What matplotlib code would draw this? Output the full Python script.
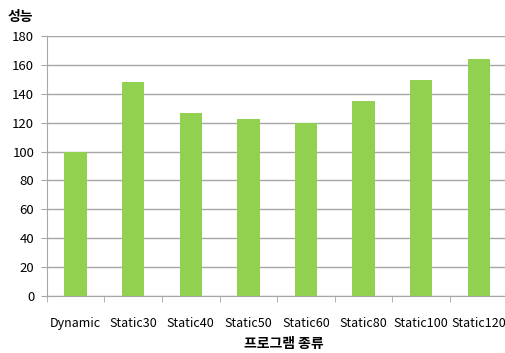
import numpy as np
import matplotlib
matplotlib.use("Agg")
import matplotlib.pyplot as plt

plt.rcParams['font.family'] = ['Noto Sans CJK KR', 'DejaVu Sans']

# data
programs = ["Dynamic", "Static30", "Static40", "Static50", "Static60", "Static80", "Static100", "Static120"]
performance = [100, 148, 126.5, 122.3, 120, 135, 149.3, 164.2]

fig = plt.figure(figsize=(5.06, 3.53), dpi=100)
ax = fig.add_axes([46.7 / 506, 1 - 296 / 353, (507.7 - 46.7) / 506, 260 / 353])

x = np.arange(len(programs))
ax.bar(x, performance, width=0.39, color="#92D050", zorder=3)

ax.set_xlim(-0.5, len(programs) - 0.5)
ax.set_ylim(0, 180)
ax.set_yticks(range(0, 181, 20))
ax.yaxis.grid(True, color="#A6A6A6", linewidth=1)
ax.set_axisbelow(True)

ax.set_xticks(x)
ax.set_xticklabels(programs, fontsize=9)
ax.set_xticks(np.arange(-0.5, len(programs), 1), minor=True)
ax.tick_params(axis="x", which="major", length=0, pad=15)
ax.tick_params(axis="x", which="minor", length=4, color="#A6A6A6", direction="out")
ax.tick_params(axis="y", length=4, color="#A6A6A6", labelsize=9.5, pad=5)

for s in ["top", "right"]:
    ax.spines[s].set_visible(False)
for s in ["left", "bottom"]:
    ax.spines[s].set_color("#A6A6A6")

fig.text(8 / 506, 1 - 17 / 353, "성능", fontsize=10, fontweight="bold", va="center", ha="left")
fig.text(284 / 506, 1 - 344 / 353, "프로그램 종류", fontsize=10, fontweight="bold", va="center", ha="center")

fig.savefig("out.png", dpi=100)
